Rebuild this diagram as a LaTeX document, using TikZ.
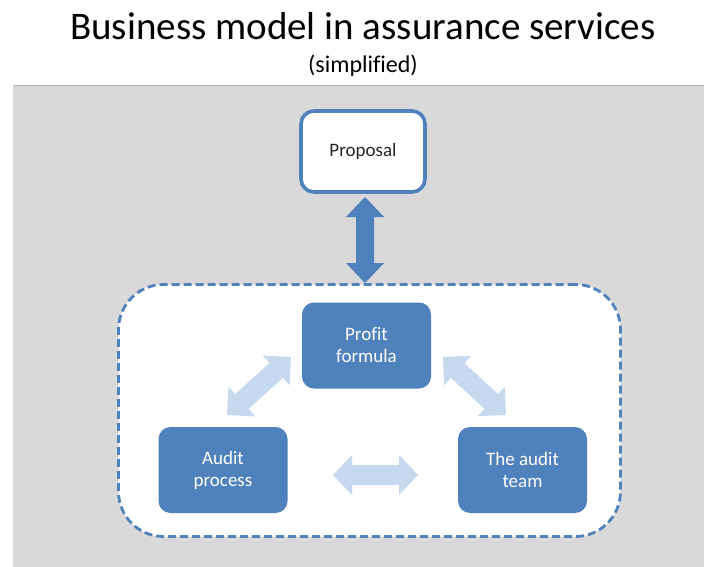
\documentclass[tikz,border=0pt]{standalone}
\usepackage{fontspec}
\setmainfont{Carlito}[Ligatures=NoCommon]
\usetikzlibrary{calc}
\definecolor{ablue}{HTML}{4F81BD}
\definecolor{lblue}{HTML}{C6D9F1}
\definecolor{bggray}{HTML}{D9D9D9}
\definecolor{txtc}{HTML}{262626}
% #1 style, #2 from, #3 to, #4 shaft half width, #5 head half width, #6 head length
\newcommand{\blockarrow}[6]{%
  \fill[#1] let \p1=($(#3)-(#2)$), \n1={atan2(\y1,\x1)}, \n2={veclen(\x1,\y1)} in
    [shift={(#2)}, rotate=\n1]
    (0pt,0pt) -- (#6,#5) -- (#6,#4) -- ({\n2*1pt-#6},#4) -- ({\n2*1pt-#6},#5)
    -- ({\n2*1pt},0pt) -- ({\n2*1pt-#6},-#5) -- ({\n2*1pt-#6},-#4) -- (#6,-#4) -- (#6,-#5) -- cycle;
}
\begin{document}
\begin{tikzpicture}[x=1pt,y=-1pt,
  box/.style={rounded corners=12pt, fill=ablue, text=white, align=center,
    font=\fontsize{19}{22}\selectfont, minimum width=129pt, minimum height=86pt, inner sep=0pt},
  propbox/.style={rounded corners=13pt, draw=ablue, line width=3.6pt, fill=white, text=txtc,
    font=\fontsize{19}{22}\selectfont, minimum width=124pt, minimum height=81pt, inner sep=0pt},
  container/.style={draw=ablue, line width=2.8pt, dash pattern=on 8pt off 4pt, fill=white,
    rounded corners=45pt, minimum width=502pt, minimum height=252pt, inner sep=0pt},
  darr/.style={fill=ablue},
  larr/.style={fill=lblue}]
\useasboundingbox (0,0) rectangle (704,567);
\fill[bggray] (13,85) rectangle (704,567);
\draw[black!30, line width=0.8pt] (13,85.4) -- (704,85.4);

\node[anchor=base, text=black, font=\fontsize{39}{44}\selectfont] (title) at (363,40) {Business model in assurance services};
\node[anchor=base, text=black, font=\fontsize{24}{27}\selectfont] (sub) at (363,73) {(simplified)};

\node[container] (ctr) at (369.5,410.5) {};
\node[propbox] (prop) at (363,151.5) {Proposal};

\coordinate (va1) at (365,197);
\coordinate (va2) at (365,283);
\blockarrow{darr}{va1}{va2}{9pt}{19pt}{20pt}

\node[box] (profit) at (366.5,345.5) {Profit\\formula};
\node[box] (proc) at (223,470) {Audit\\process};
\node[box] (team) at (522.5,470) {The audit\\team};

\coordinate (la1) at (227,415);
\coordinate (la2) at (291,357);
\coordinate (ra1) at (443,357);
\coordinate (ra2) at (506,415);
\coordinate (ha1) at (333,475);
\coordinate (ha2) at (418,475);
\blockarrow{larr}{la1}{la2}{10pt}{20pt}{20pt}
\blockarrow{larr}{ra1}{ra2}{10pt}{20pt}{20pt}
\blockarrow{larr}{ha1}{ha2}{10pt}{20pt}{19pt}
\end{tikzpicture}
\end{document}
